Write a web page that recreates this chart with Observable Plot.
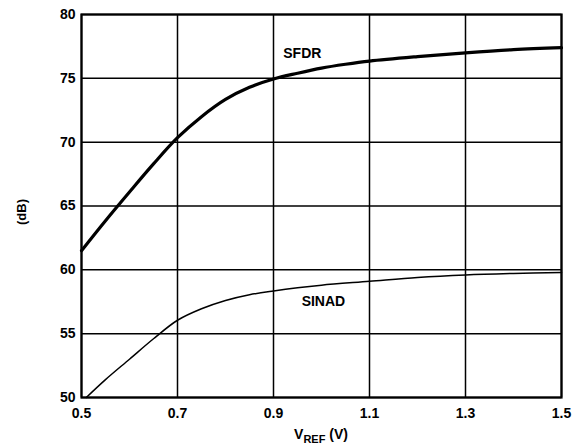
<!DOCTYPE html>
<html>
<head>
<meta charset="utf-8">
<script src="https://cdn.jsdelivr.net/npm/d3@7"></script>
<script src="https://cdn.jsdelivr.net/npm/@observablehq/plot@0.6"></script>
<style>
  html, body { margin: 0; padding: 0; background: #fff; }
  #chart svg { display: block; }
</style>
</head>
<body>
<div id="chart"></div>
<script>
const sfdrV  = [0.5, 0.55, 0.6, 0.65, 0.7, 0.75, 0.8, 0.85, 0.9, 0.95, 1.0, 1.05, 1.1, 1.2, 1.3, 1.4, 1.5];
const sfdrDb = [61.5, 63.85, 66.1, 68.3, 70.35, 72.0, 73.35, 74.3, 74.95, 75.4, 75.8, 76.1, 76.35, 76.7, 77.0, 77.25, 77.4];
const sinadV  = [0.51, 0.55, 0.6, 0.65, 0.7, 0.75, 0.8, 0.85, 0.9, 0.95, 1.0, 1.1, 1.2, 1.3, 1.4, 1.5];
const sinadDb = [50.0, 51.4, 53.0, 54.6, 56.05, 56.95, 57.6, 58.05, 58.35, 58.6, 58.8, 59.1, 59.4, 59.6, 59.72, 59.8];
const xTicks = [0.5, 0.7, 0.9, 1.1, 1.3, 1.5];
const yTicks = [50, 55, 60, 65, 70, 75, 80];
const curveLabels = [
  {name: "SFDR", v: 0.96, db: 76.95},
  {name: "SINAD", v: 1.004, db: 57.5}
];

const sfdr = sfdrV.map((v, i) => ({v, db: sfdrDb[i]}));
const sinad = sinadV.map((v, i) => ({v, db: sinadDb[i]}));

const font = "Arial, 'Liberation Sans', Helvetica, sans-serif";

const chart = Plot.plot({
  width: 580,
  height: 448,
  marginLeft: 81,
  marginRight: 19,
  marginTop: 14,
  marginBottom: 51,
  style: {fontFamily: font, background: "#fff", color: "#000"},
  x: {domain: [0.5, 1.5], ticks: xTicks, label: null},
  y: {domain: [50, 80], ticks: yTicks, label: null},
  marks: [
    Plot.ruleX(xTicks, {stroke: "#000", strokeWidth: 1.5}),
    Plot.ruleY(yTicks, {stroke: "#000", strokeWidth: 1.5}),
    Plot.frame({stroke: "#000", strokeWidth: 2.2}),
    Plot.line(sfdr, {x: "v", y: "db", stroke: "#000", strokeWidth: 3.2, curve: "catmull-rom"}),
    Plot.line(sinad, {x: "v", y: "db", stroke: "#000", strokeWidth: 1.5, curve: "catmull-rom"}),
    Plot.text(curveLabels, {x: "v", y: "db", text: "name", fontSize: 14, fontWeight: "bold", fill: "#000"}),
    Plot.axisX(xTicks, {tickSize: 0, tickPadding: 11, fontSize: 14, fontWeight: "bold", tickFormat: d => d.toFixed(1), label: null}),
    Plot.axisY(yTicks, {tickSize: 0, tickPadding: 6, fontSize: 14, fontWeight: "bold", label: null})
  ]
});

const svg = d3.select(chart);
const xl = svg.append("text")
  .attr("x", 321).attr("y", 439)
  .attr("text-anchor", "middle")
  .attr("font-family", font)
  .attr("font-weight", "bold")
  .attr("font-size", 14)
  .attr("fill", "#000");
xl.append("tspan").text("V");
xl.append("tspan").attr("font-size", 11).attr("dy", 4).text("REF");
xl.append("tspan").attr("dy", -4).text(" (V)");

svg.append("text")
  .attr("transform", "translate(26,212) rotate(-90)")
  .attr("text-anchor", "middle")
  .attr("font-family", font)
  .attr("font-weight", "bold")
  .attr("font-size", 13)
  .attr("fill", "#000")
  .text("(dB)");

document.getElementById("chart").appendChild(chart);
</script>
</body>
</html>
